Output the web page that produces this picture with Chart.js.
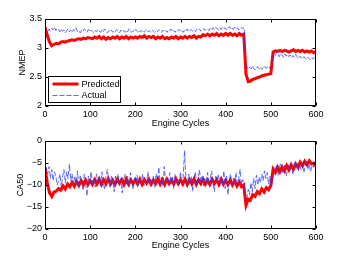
<!DOCTYPE html>
<html><head><meta charset="utf-8">
<script src="https://cdn.jsdelivr.net/npm/chart.js@4/dist/chart.umd.min.js"></script>
<style>
html,body{margin:0;padding:0;background:#fff;}
#wrap{position:relative;width:349px;height:259px;overflow:hidden;background:#fff;}
.c{position:absolute;left:0;width:349px;}
</style></head><body>
<div id="wrap">
<div class="c" style="top:0;height:130px"><canvas id="c1"></canvas></div>
<div class="c" style="top:130px;height:129px"><canvas id="c2"></canvas></div>
</div>
<script>
// ---- data ----
const predCycles = [0,5,10,15,20,25,30,35,40,45,50,55,60,65,70,75,80,85,90,95,100,105,110,115,120,125,130,135,140,145,150,155,160,165,170,175,180,185,190,195,200,205,210,215,220,225,230,235,240,245,250,255,260,265,270,275,280,285,290,295,300,305,310,315,320,325,330,335,340,345,350,355,360,365,370,375,380,385,390,395,400,405,410,415,420,425,430,435,440,445,450,455,460,465,470,475,480,485,490,495,500,505,510,515,520,525,530,535,540,545,550,555,560,565,570,575,580,585,590,595,600];
const actCycles = [0,3,6,9,12,15,18,21,24,27,30,33,36,39,42,45,48,51,54,57,60,63,66,69,72,75,78,81,84,87,90,93,96,99,102,105,108,111,114,117,120,123,126,129,132,135,138,141,144,147,150,153,156,159,162,165,168,171,174,177,180,183,186,189,192,195,198,201,204,207,210,213,216,219,222,225,228,231,234,237,240,243,246,249,252,255,258,261,264,267,270,273,276,279,282,285,288,291,294,297,300,303,306,309,312,315,318,321,324,327,330,333,336,339,342,345,348,351,354,357,360,363,366,369,372,375,378,381,384,387,390,393,396,399,402,405,408,411,414,417,420,423,426,429,432,435,438,441,444,447,450,453,456,459,462,465,468,471,474,477,480,483,486,489,492,495,498,501,504,507,510,513,516,519,522,525,528,531,534,537,540,543,546,549,552,555,558,561,564,567,570,573,576,579,582,585,588,591,594,597,600];

const nmepPredicted = [3.36,3.22,3.10,3.04,3.06,3.08,3.07,3.10,3.11,3.10,3.12,3.13,3.14,3.13,3.15,3.16,3.15,3.17,3.16,3.18,3.17,
3.16,3.19,3.17,3.20,3.16,3.19,3.15,3.18,3.16,3.19,3.17,3.20,3.16,3.19,3.17,3.20,3.16,3.19,3.17,3.19,
3.17,3.20,3.18,3.21,3.17,3.20,3.18,3.20,3.16,3.19,3.17,3.20,3.16,3.18,3.16,3.19,3.17,3.20,3.16,3.19,
3.17,3.20,3.17,3.20,3.18,3.21,3.17,3.20,3.19,3.23,3.21,3.24,3.21,3.24,3.22,3.25,3.21,3.24,3.22,3.25,
3.22,3.25,3.22,3.24,3.21,3.25,3.22,3.24,
2.55,2.42,2.43,2.46,2.47,2.49,2.50,2.52,2.53,2.54,2.55,2.56,
2.93,2.95,2.94,2.96,2.94,2.96,2.95,2.93,2.95,2.97,2.94,2.96,2.94,2.96,2.93,2.95,2.93,2.95,2.92,2.94];

const nmepActual = [3.25,3.30,3.27,3.33,3.29,3.34,3.31,3.36,3.30,3.34,
3.32,3.28,3.33,3.29,3.31,3.26,3.30,3.33,3.28,3.31,
3.27,3.32,3.29,3.34,3.28,3.30,3.26,3.31,3.29,3.33,
3.30,3.27,3.32,3.28,3.31,3.29,3.26,3.30,3.28,3.32,
3.29,3.27,3.31,3.28,3.33,3.29,3.26,3.30,3.28,3.31,
3.27,3.30,3.28,3.32,3.29,3.26,3.31,3.28,3.30,3.27,
3.31,3.28,3.33,3.29,3.27,3.30,3.28,3.32,3.29,3.26,
3.30,3.28,3.31,3.27,3.29,3.32,3.28,3.30,3.27,3.31,
3.29,3.27,3.30,3.28,3.32,3.29,3.27,3.31,3.28,3.30,
3.27,3.31,3.29,3.33,3.28,3.30,3.27,3.31,3.29,3.32,
3.28,3.30,3.27,3.31,3.29,3.33,3.28,3.30,3.32,3.29,
3.31,3.28,3.32,3.30,3.33,3.29,3.31,3.34,3.30,3.32,
3.33,3.30,3.34,3.31,3.35,3.32,3.36,3.33,3.31,3.35,
3.32,3.36,3.33,3.35,3.31,3.34,3.37,3.33,3.35,3.32,
3.36,3.33,3.35,3.31,3.34,3.36,3.33,3.35,2.80,2.68,
2.63,2.67,2.64,2.69,2.65,2.62,2.66,2.68,2.64,2.67,
2.63,2.66,2.69,2.65,2.67,2.64,2.68,2.66,2.86,2.91,
2.87,2.93,2.89,2.85,2.91,2.88,2.84,2.90,2.86,2.89,
2.85,2.88,2.83,2.87,2.84,2.89,2.85,2.82,2.86,2.84,
2.81,2.85,2.83,2.80,2.84,2.82,2.79,2.83,2.81,2.84,
2.82];

const ca50Predicted = [-6,-9.5,-11.8,-12.6,-11.6,-11.4,-10.8,-11.2,-10.2,-10.9,-9.8,-10.4,-9.4,-10.3,-9.2,-10.1,-9.0,-10.0,-8.9,-9.9,-9.0,
-9.9,-8.8,-9.8,-8.7,-9.9,-8.8,-9.7,-8.6,-9.8,-8.9,-9.9,-8.7,-9.6,-8.8,-9.9,-8.7,-9.8,-8.9,-9.7,-8.8,
-9.8,-8.7,-9.9,-8.8,-9.6,-8.7,-9.8,-8.9,-9.7,-8.6,-9.8,-8.8,-9.9,-8.7,-9.7,-8.9,-9.8,-8.6,-9.7,-8.8,
-9.8,-8.7,-9.9,-8.8,-9.7,-8.6,-9.9,-8.8,-9.7,-8.7,-9.8,-8.9,-9.9,-8.7,-9.7,-8.8,-9.9,-8.7,-9.8,-8.9,
-9.9,-8.9,-10.0,-9.1,-10.2,-9.3,-10.4,-10.0,
-14.6,-13.2,-13.4,-12.2,-12.6,-11.5,-12.0,-10.9,-11.6,-10.6,-11.1,-10.1,
-6.4,-7.2,-6.0,-7.0,-5.9,-6.8,-5.6,-6.6,-5.4,-6.4,-5.2,-6.0,-4.8,-5.6,-4.6,-5.4,-4.5,-5.2,-5.0,-5.8];

const ca50Actual = [-8,-6,-7.5,-5.8,-8.5,-6.5,-9,-7,-8,-10,
-9,-7.5,-10.5,-8,-6.5,-9.5,-7,-8.5,-5.2,-9,
-7.5,-10,-8,-9.5,-6.8,-10.5,-8,-9,-11,-7.5,
-9.5,-12.5,-8,-10,-7,-9.5,-8.5,-10.5,-7.5,-9,
-8,-10.2,-7,-9.5,-11,-8,-6.5,-9,-10.5,-7.8,
-9.2,-11.5,-8,-9.5,-7.5,-10,-8.5,-11.8,-9,-7.5,
-9.8,-8,-10.5,-7.2,-9,-11,-8.5,-9.5,-7.8,-10,
-8.5,-9.8,-7.5,-10.2,-8.8,-9.2,-7,-10,-8.5,-9.5,
-8,-10.5,-7.5,-9,-6,-9.8,-8.2,-10.2,-5.8,-9,
-8.5,-10,-7.2,-9.5,-8,-10.8,-7.5,-9.2,-8.8,-10,
-7,-9.5,-8.2,-2.2,-9,-10.5,-7.5,-9.8,-8,-11.5,
-8.5,-7,-10,-8.8,-6.5,-9.5,-7.8,-10.2,-8.5,-9.2,
-7.2,-10,-8.5,-6.8,-9.8,-11.5,-8,-9,-7.5,-10.5,
-8.2,-9.5,-6.8,-10.8,-8,-12.2,-9,-7.5,-10,-8.5,
-9.2,-7.2,-10.5,-8.5,-6.5,-9.8,-8.8,-10,-12.5,-13,
-11,-12.2,-9.5,-11.5,-8.5,-10.8,-7.8,-10,-8.2,-9.5,
-7.5,-9,-6.8,-8.5,-7.2,-9.8,-8,-10.5,-9,-6,
-6.5,-5.5,-7.8,-6,-5,-7.2,-6.2,-5.5,-8,-6.5,
-5.2,-6.8,-5.8,-7.5,-5,-6.2,-4.8,-6.8,-5.5,-6.5,
-5,-7.2,-5.8,-4.5,-6.5,-5.2,-7,-5.5,-6,-4.8,
-6];

const xTicks = [0,100,200,300,400,500,600];
const xTickLabels = ['0','100','200','300','400','500','600'];
const nmepTicks = [2,2.5,3,3.5];
const nmepTickLabels = ['2','2.5','3','3.5'];
const ca50Ticks = [-20,-15,-10,-5,0];
const ca50TickLabels = ['\u221220','\u221215','\u221210','\u22125','0'];
const seriesNames = ['Predicted','Actual'];
const xTitle = 'Engine Cycles';

// ---- rendering ----
const FONT = "'Liberation Sans', Arial, Helvetica, sans-serif";
Chart.defaults.font.family = FONT;
Chart.defaults.font.size = 9;
Chart.defaults.color = '#000';

const toXY = (xs, ys) => xs.map((x, i) => ({x: x, y: ys[i]}));

const framePlugin = {
  id: 'frame',
  afterDatasetsDraw(chart) {
    const {ctx, chartArea: a, scales: {x, y}} = chart;
    ctx.save();
    ctx.strokeStyle = '#000';
    ctx.lineWidth = 1;
    const L = Math.round(a.left) + 0.5, R = Math.round(a.right) - 0.5;
    const T = Math.round(a.top) + 0.5, B = Math.round(a.bottom) - 0.5;
    ctx.beginPath();
    x.ticks.forEach(t => {
      const px = Math.round(x.getPixelForValue(t.value)) + 0.5;
      ctx.moveTo(px, B); ctx.lineTo(px, B - 3);
      ctx.moveTo(px, T); ctx.lineTo(px, T + 3);
    });
    y.ticks.forEach(t => {
      const py = Math.round(y.getPixelForValue(t.value)) + 0.5;
      ctx.moveTo(L, py); ctx.lineTo(L + 3, py);
      ctx.moveTo(R, py); ctx.lineTo(R - 3, py);
    });
    ctx.stroke();
    ctx.strokeRect(L, T, R - L, B - T);
    ctx.restore();
  }
};

const legendPlugin = {
  id: 'boxLegend',
  afterDraw(chart, args, opts) {
    if (!opts || !opts.show) return;
    const {ctx, chartArea: a} = chart;
    const w = 72, h = 26;
    const bx = Math.round(a.left) + 3.5, by = Math.round(a.bottom) - 3.5 - h;
    ctx.save();
    ctx.fillStyle = '#fff';
    ctx.fillRect(bx, by, w, h);
    ctx.strokeStyle = '#000';
    ctx.lineWidth = 1;
    ctx.strokeRect(bx, by, w, h);
    chart.data.datasets.forEach((ds, i) => {
      const ly = by + 7.5 + i * 11.5;
      ctx.beginPath();
      ctx.strokeStyle = ds.borderColor;
      ctx.lineWidth = ds.borderWidth;
      ctx.setLineDash(ds.borderDash || []);
      ctx.moveTo(bx + 4, ly); ctx.lineTo(bx + 30, ly);
      ctx.stroke();
      ctx.setLineDash([]);
      ctx.fillStyle = '#000';
      ctx.font = '9px ' + FONT;
      ctx.textBaseline = 'middle';
      ctx.fillText(ds.label, bx + 33, ly + 0.5);
    });
    ctx.restore();
  }
};

function makeChart(id, cfg) {
  return new Chart(document.getElementById(id), {
    type: 'line',
    data: {
      datasets: [
        {label: seriesNames[0], data: toXY(predCycles, cfg.pred), borderColor: '#ff0000', borderWidth: 3,
         pointRadius: 0, tension: 0, fill: false, order: 2},
        {label: seriesNames[1], data: toXY(actCycles, cfg.act), borderColor: 'rgba(40,60,255,0.75)', borderWidth: 1,
         borderDash: [5, 2], pointRadius: 0, tension: 0, fill: false, order: 1}
      ]
    },
    options: {
      responsive: true, maintainAspectRatio: false, animation: false, devicePixelRatio: 1,
      layout: {padding: {top: cfg.padTop, right: 33, bottom: 0, left: 0}},
      plugins: {legend: {display: false}, tooltip: {enabled: false}, boxLegend: {show: cfg.legend}},
      scales: {
        x: {
          type: 'linear', min: 0, max: 600,
          grid: {display: false, drawTicks: false},
          border: {display: false},
          afterBuildTicks: s => { s.ticks = xTicks.map(v => ({value: v})); },
          ticks: {padding: 3, maxRotation: 0, autoSkip: false, callback: (v, i) => xTickLabels[i]},
          title: {display: true, text: xTitle, padding: {top: 0, bottom: cfg.xTitlePad}},
          afterFit: s => { s.height = cfg.xHeight; }
        },
        y: {
          type: 'linear', min: cfg.yMin, max: cfg.yMax,
          grid: {display: false, drawTicks: false},
          border: {display: false},
          afterBuildTicks: s => { s.ticks = cfg.yTicks.map(v => ({value: v})); },
          ticks: {padding: 3, autoSkip: false, callback: (v, i) => cfg.yLabels[i]},
          title: {display: true, text: cfg.yTitle, padding: {top: cfg.yTitlePad, bottom: 0}},
          afterFit: s => { s.width = 45; }
        }
      }
    },
    plugins: [framePlugin, legendPlugin]
  });
}

makeChart('c1', {pred: nmepPredicted, act: nmepActual, padTop: 19, xHeight: 24, xTitlePad: 1,
  yMin: 2, yMax: 3.5, yTicks: nmepTicks, yLabels: nmepTickLabels, yTitle: 'NMEP', yTitlePad: 17, legend: true});
makeChart('c2', {pred: ca50Predicted, act: ca50Actual, padTop: 11, xHeight: 30, xTitlePad: 8,
  yMin: -20, yMax: 0, yTicks: ca50Ticks, yLabels: ca50TickLabels, yTitle: 'CA50', yTitlePad: 15, legend: false});
</script>
</body></html>
